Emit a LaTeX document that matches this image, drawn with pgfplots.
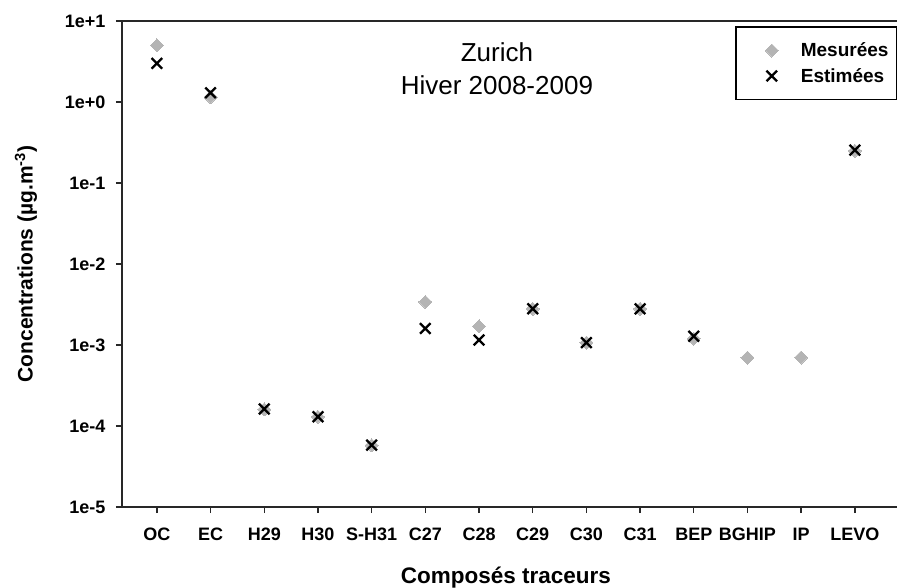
\documentclass[border=0pt]{standalone}
\usepackage{pgfplots}
\pgfplotsset{compat=1.18}
\usepackage{fontspec}
\setmainfont{Liberation Sans}

\definecolor{mesgray}{RGB}{180,180,180}
\definecolor{axgray}{RGB}{40,40,40}

% measured / estimated concentrations, x = category index
\pgfplotstableread{
x y
0 5.0
1 1.15
2 1.6e-4
3 1.3e-4
4 5.8e-5
5 3.4e-3
6 1.7e-3
7 2.8e-3
8 1.07e-3
9 2.8e-3
10 1.2e-3
11 7.0e-4
12 7.0e-4
13 0.25
}\mesurees
\pgfplotstableread{
x y
0 3.0
1 1.3
2 1.62e-4
3 1.3e-4
4 5.8e-5
5 1.6e-3
6 1.15e-3
7 2.8e-3
8 1.07e-3
9 2.8e-3
10 1.28e-3
13 0.255
}\estimees

% marker 30pt in from the left of a 57pt wide legend image
\pgfplotsset{wideimage/.style={legend image code/.code={%
    \path[draw=none, fill=none] (0pt,0pt) -- (57pt,0pt);
    \draw[##1] plot[only marks] coordinates {(30pt,0pt)};}}}

\begin{document}
\begin{tikzpicture}
\begin{axis}[
    scale only axis,
    width=808pt, height=486pt,
    xmin=-0.65, xmax=14.4,
    ymode=log, ymin=1e-5, ymax=10,
    xtick={0,...,13},
    xticklabels={OC,EC,H29,H30,S-H31,C27,C28,C29,C30,C31,BEP,BGHIP,IP,LEVO},
    ytick={1e-5,1e-4,1e-3,1e-2,1e-1,1,10},
    yticklabels={1e-5,1e-4,1e-3,1e-2,1e-1,1e+0,1e+1},
    minor ytick={}, yminorticks=false,
    tick align=outside, tick pos=left,
    major tick length=6pt,
    tick style={line width=1.4pt, color=axgray},
    axis line style={line width=1.6pt, color=axgray},
    ticklabel style={font=\bfseries\fontsize{18}{20}\selectfont},
    xticklabel style={yshift=-11pt, text height=13pt, text depth=3pt},
    yticklabel style={xshift=-7pt},
    xlabel={Composés traceurs},
    ylabel={Concentrations (µg.m\textsuperscript{-3})},
    xlabel style={font=\bfseries\fontsize{22.5}{24}\selectfont,
        at={(axis description cs:0.475,0)}, anchor=north, yshift=-56pt},
    ylabel style={font=\bfseries\fontsize{21}{23}\selectfont,
        at={(axis description cs:-0.1188,0.5)}, anchor=center},
    legend style={at={(0.7587,0.9897)}, anchor=north west,
        draw=black, line width=1.6pt,
        font=\bfseries\fontsize{19}{20}\selectfont,
        inner xsep=6pt, inner ysep=14pt, row sep=6pt},
    legend cell align=left,
]
\addplot[only marks, wideimage, mark=square*, mark size=4.6pt, mark options={rotate=45, draw=mesgray, fill=mesgray, line width=0pt}]
    table[x=x, y=y] {\mesurees};
\addlegendentry{Mesurées}
\addplot[only marks, wideimage, mark=x, mark size=7.5pt, mark options={line width=2.3pt, draw=black}]
    table[x=x, y=y] {\estimees};
\addlegendentry{Estimées}
\node[align=center, font=\fontsize{26}{33}\selectfont] at (axis description cs:0.464,0.902) {Zurich\\Hiver 2008-2009};
\coordinate (bl) at (rel axis cs:0,0);
\end{axis}
\pgfresetboundingbox
\path[use as bounding box] ([shift={(-122pt,-80pt)}]bl) rectangle ([shift={(775pt,507pt)}]bl);
\end{tikzpicture}
\end{document}
